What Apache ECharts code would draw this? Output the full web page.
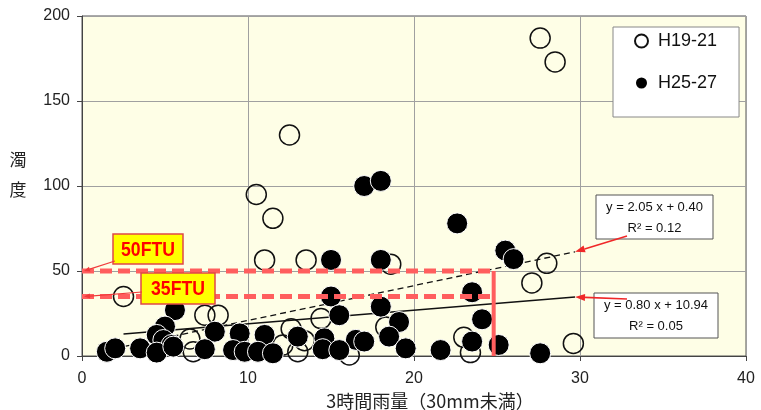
<!DOCTYPE html>
<html><head><meta charset="utf-8">
<script src="https://cdn.jsdelivr.net/npm/echarts@6/dist/echarts.min.js"></script>
<style>html,body{margin:0;padding:0;background:#fff}#c{width:761px;height:410px}</style>
</head><body><div id="c"></div>
<script>
// Rainfall (3 h, under 30 mm) vs turbidity, two observation periods
const seriesNames = ['H19-21', 'H25-27'];
const h19Rain = [27.6, 28.5, 12.5, 10.5, 11.5, 11.0, 13.5, 18.6, 28.0, 27.1, 2.5, 7.4, 8.2, 14.4, 29.6, 23.0, 23.4, 16.1, 12.6, 12.1, 6.5, 6.7, 13.0, 18.3, 13.4];
const h19Turb = [187, 173, 130, 95, 81, 56.5, 56.5, 54, 54.5, 43, 35, 24, 24, 22, 7.4, 11, 2, 0.6, 16, 6.5, 10, 2.5, 2.5, 17, 9];
const h25Rain = [17.0, 18.0, 22.6, 25.5, 26.0, 15.0, 18.0, 23.5, 15.0, 5.6, 18.0, 15.5, 24.1, 19.1, 5.0, 4.5, 4.9, 5.4, 1.5, 2.0, 3.5, 4.5, 8.0, 9.5, 11.0, 13.0, 14.6, 16.5, 17.0, 18.5, 19.5, 21.6, 23.5, 25.1, 27.6, 7.4, 9.1, 9.8, 10.6, 11.5, 14.5, 15.5, 5.5];
const h25Turb = [100, 103, 78, 62, 57, 56.5, 56.5, 37.5, 35, 27, 29, 24, 21.6, 20, 17.3, 12.4, 9.4, 6.5, 2.5, 4.5, 4.5, 2, 14.3, 13.3, 12.4, 11.4, 10.4, 9.5, 8.5, 11.4, 4.5, 3.5, 8.5, 6.5, 1.6, 4, 3.5, 2.5, 2.5, 1.6, 4, 3.5, 5.5];
const xTicks = [0, 10, 20, 30, 40];
const yTicks = [0, 50, 100, 150, 200];
// linear trend y = a x + b for each period
const trendSlope = [2.05, 0.80];
const trendIntercept = [0.40, 10.94];
const trendR2 = [0.12, 0.05];
const trendSpan = [2.5, 29.7];
// turbidity limits and the rainfall cut-off
const limitLevels = [50, 35];
const limitLabels = ['50FTU', '35FTU'];
const limitRain = 24.8;

const zip = (xs, ys) => xs.map((x, i) => [x, ys[i]]);
const trendPts = k => trendSpan.map(x => [x, trendSlope[k] * x + trendIntercept[k]]);
const numFont = 'Liberation Sans, Arial, sans-serif';
const jpFont = 'Noto Sans CJK JP, sans-serif';
const limitColor = '#FF5E5E';

const chart = echarts.init(document.getElementById('c'), null, { renderer: 'canvas' });
const axisCommon = {
  type: 'value',
  axisLine: { show: true, lineStyle: { color: '#444', width: 1 } },
  axisTick: { show: true, inside: false, length: 5, lineStyle: { color: '#444' } },
  splitLine: { show: true, lineStyle: { color: '#A0A0A0', width: 1 } },
  axisLabel: { fontFamily: numFont, fontSize: 16, color: '#222' }
};
chart.setOption({
  animation: false,
  backgroundColor: '#fff',
  grid: { left: 82, right: 15, top: 16, bottom: 54, outerBoundsMode: 'none', containLabel: false,
    show: true, backgroundColor: '#FEFEE6', borderColor: '#555', borderWidth: 1 },
  xAxis: Object.assign({}, axisCommon, {
    min: xTicks[0], max: xTicks[xTicks.length - 1], interval: xTicks[1] - xTicks[0],
    axisLabel: Object.assign({}, axisCommon.axisLabel, { margin: 15 }),
    name: '3時間雨量（30mm未満）', nameLocation: 'middle', nameGap: 35,
    nameTextStyle: { fontFamily: jpFont, fontSize: 18, color: '#222', padding: [0, 0, 0, 32] }
  }),
  yAxis: Object.assign({}, axisCommon, {
    min: yTicks[0], max: yTicks[yTicks.length - 1], interval: yTicks[1] - yTicks[0],
    axisLabel: Object.assign({}, axisCommon.axisLabel, { margin: 12 })
  }),
  legend: {
    orient: 'vertical', left: 613, top: 27,
    data: seriesNames,
    itemWidth: 13, itemHeight: 13, itemGap: 24,
    padding: [5, 22, 25, 21],
    backgroundColor: '#fff', borderColor: '#888', borderWidth: 1,
    textStyle: { fontFamily: numFont, fontSize: 18, color: '#111', padding: [0, 0, 0, 5] }
  },
  series: [
    { name: 'trend-a', type: 'line', data: trendPts(0), symbol: 'none', silent: true, z: 3,
      lineStyle: { color: '#111', width: 1.3, type: [6, 4] } },
    { name: 'trend-b', type: 'line', data: trendPts(1), symbol: 'none', silent: true, z: 3,
      lineStyle: { color: '#111', width: 1.3, type: 'solid' } },
    { name: seriesNames[0], type: 'scatter', data: zip(h19Rain, h19Turb), symbol: 'circle', symbolSize: 20, z: 4,
      itemStyle: { color: 'rgba(255,255,255,0)', borderColor: '#111', borderWidth: 1.5, opacity: 1 } },
    { name: seriesNames[1], type: 'scatter', data: zip(h25Rain, h25Turb), symbol: 'circle', symbolSize: 21, z: 5,
      itemStyle: { color: '#000', borderColor: '#fff', borderWidth: 1, opacity: 1 } },
    { name: 'limit-50', type: 'line', data: [[xTicks[0], limitLevels[0]], [limitRain, limitLevels[0]]], symbol: 'none', silent: true, z: 8,
      lineStyle: { color: limitColor, width: 5, type: [12, 6] } },
    { name: 'limit-35', type: 'line', data: [[xTicks[0], limitLevels[1]], [limitRain, limitLevels[1]]], symbol: 'none', silent: true, z: 8,
      lineStyle: { color: limitColor, width: 5, type: [12, 6] } },
    { name: 'limit-rain', type: 'line', data: [[limitRain, yTicks[0]], [limitRain, limitLevels[0]]], symbol: 'none', silent: true, z: 8,
      lineStyle: { color: limitColor, width: 4, type: 'solid' } }
  ]
});

// callouts: label boxes with arrows pointing at the lines
function arrow(p0, p1, color, width, headLen, headW) {
  const dx = p1[0] - p0[0], dy = p1[1] - p0[1];
  const L = Math.hypot(dx, dy), ux = dx / L, uy = dy / L;
  const bx = p1[0] - ux * headLen, by = p1[1] - uy * headLen;
  return [
    { type: 'line', z: 120, shape: { x1: p0[0], y1: p0[1], x2: bx, y2: by }, style: { stroke: color, lineWidth: width } },
    { type: 'polygon', z: 120, shape: { points: [[p1[0], p1[1]], [bx - uy * headW / 2, by + ux * headW / 2], [bx + uy * headW / 2, by - ux * headW / 2]] }, style: { fill: color } }
  ];
}
function box(x, y, w, h, fill, stroke, lw) {
  return { type: 'rect', z: 110, shape: { x: x, y: y, width: w, height: h }, style: { fill: fill, stroke: stroke, lineWidth: lw } };
}
function txt(s, x, y, font, color, sx, lh) {
  return { type: 'text', z: 115, x: x, y: y, scaleX: sx || 1,
    style: { text: s, x: 0, y: 0, align: 'center', verticalAlign: 'middle', font: font, fill: color, lineHeight: lh } };
}
const px = p => chart.convertToPixel({ gridIndex: 0 }, p);
const g = [];
// vertical y-axis title
g.push(txt('濁\n度', 18, 175, '17px ' + jpFont, '#222', 1, 30));
const eqFont = '13px ' + numFont;
const eqBoxes = [[596, 195, 117, 44], [594, 293, 124, 45]];
const eqTails = [[627, 236], [627, 299]];
for (let k = 0; k < 2; k++) {
  const b = eqBoxes[k];
  g.push(box(b[0], b[1], b[2], b[3], '#fff', '#555', 1));
  g.push(txt('y = ' + trendSlope[k].toFixed(2) + ' x + ' + trendIntercept[k].toFixed(2), b[0] + b[2] / 2, b[1] + 12, eqFont, '#111'));
  g.push(txt('R² = ' + trendR2[k].toFixed(2), b[0] + b[2] / 2, b[1] + 33, eqFont, '#111'));
  const end = trendPts(k)[1];
  g.push.apply(g, arrow(eqTails[k], px(end), '#F02828', 1.6, 10, 7));
}
const ftuBoxes = [[113, 234, 70, 30], [141, 273, 74, 31]];
const ftuTails = [[115, 261], [142, 292]];
const ftuFont = 'bold 21px Liberation Sans, Arial, sans-serif';
for (let k = 0; k < 2; k++) {
  const b = ftuBoxes[k];
  g.push(box(b[0], b[1], b[2], b[3], '#FFFF00', '#E04848', 1.5));
  g.push(txt(limitLabels[k], b[0] + b[2] / 2, b[1] + b[3] / 2 + 1, ftuFont, '#FF0000', 0.84));
  const tip = px([xTicks[0], limitLevels[k]]);
  g.push.apply(g, arrow(ftuTails[k], [tip[0] + 2, tip[1]], '#F03A3A', 1.2, 6, 5));
}
chart.setOption({ graphic: g });
</script></body></html>
